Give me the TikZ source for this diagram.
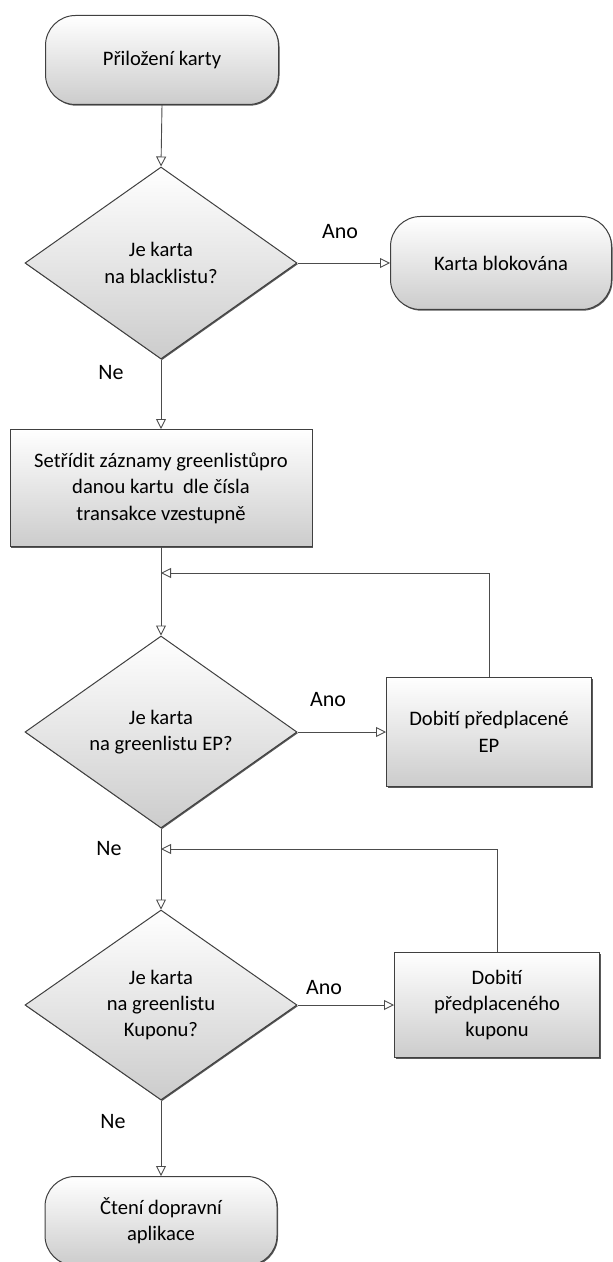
\documentclass[tikz,border=0pt]{standalone}
\usepackage{fontspec}
\setmainfont{Carlito}
\usetikzlibrary{shapes.geometric,arrows.meta,shadows}
\begin{document}
\begin{tikzpicture}[x=0.5pt,y=-0.5pt,
  every node/.style={font=\fontsize{10.3}{13.2}\selectfont, align=center, text=black},
  shade3/.style={top color=white, middle color=black!4, bottom color=black!20,
    draw=black!75, line width=0.5pt,
    drop shadow={shadow xshift=0.5pt, shadow yshift=-0.6pt, fill=black!65, opacity=1}},
  terminal/.style={shade3, rectangle, rounded corners=15pt, inner sep=2pt},
  procbox/.style={shade3, rectangle, inner sep=2pt},
  decision/.style={shade3, diamond, inner sep=0pt, minimum width=136pt, minimum height=96pt},
  arr/.style={draw=black!70, line width=0.45pt, -{Triangle[open, length=5pt, width=5pt]}},
  lab/.style={font=\fontsize{11}{13}\selectfont, text=black}
]
\useasboundingbox (0,0) rectangle (613,1262);
\clip (0,0) rectangle (613,1262);

% nodes
\node[terminal, minimum width=116.5pt, minimum height=44.5pt] (start) at (162,60) {Přiložení karty};
\node[decision] (d1) at (161,263) {Je karta\\na blacklistu?};
\node[terminal, minimum width=110.5pt, minimum height=46.5pt] (blk) at (501,263) {Karta blokována};
\node[procbox, minimum width=151pt, minimum height=58.5pt] (sort) at (161,488)
  {Setřídit záznamy greenlistůpro\\danou kartu\ \ dle čísla\\transakce vzestupně};
\node[decision] (d2) at (161,732) {Je karta\\na greenlistu EP?};
\node[procbox, minimum width=102.5pt, minimum height=54.5pt] (ep) at (489,732)
  {Dobití předplacené\\EP};
\node[decision, minimum height=95pt] (d3) at (161,1005) {Je karta\\na greenlistu\\Kuponu?};
\node[procbox, minimum width=102.5pt, minimum height=52.5pt] (kup) at (497,1005)
  {Dobití\\předplaceného\\kuponu};
\node[terminal, minimum width=116pt, minimum height=44.5pt] (end) at (161,1221)
  {Čtení dopravní\\aplikace};

% merge points
\coordinate (m1) at (161,573);
\coordinate (m2) at (161,849);

% labels
\node[lab] (ano1) at (340,232) {Ano};
\node[lab] (ne1) at (111,373) {Ne};
\node[lab] (ano2) at (328,700) {Ano};
\node[lab] (ne2) at (109,849) {Ne};
\node[lab] (ano3) at (324,988) {Ano};
\node[lab] (ne3) at (113,1122) {Ne};

% connectors
\draw[arr] (start.south) -- (d1.north);
\draw[arr] (d1.east) -- (blk.west);
\draw[arr] (d1.south) -- (sort.north);
\draw[arr] (sort.south) -- (d2.north);
\draw[arr] (ep.north) |- (m1);
\draw[arr] (d2.east) -- (ep.west);
\draw[arr] (d2.south) -- (d3.north);
\draw[arr] (kup.north) |- (m2);
\draw[arr] (d3.east) -- (kup.west);
\draw[arr] (d3.south) -- (end.north);
\end{tikzpicture}
\end{document}
